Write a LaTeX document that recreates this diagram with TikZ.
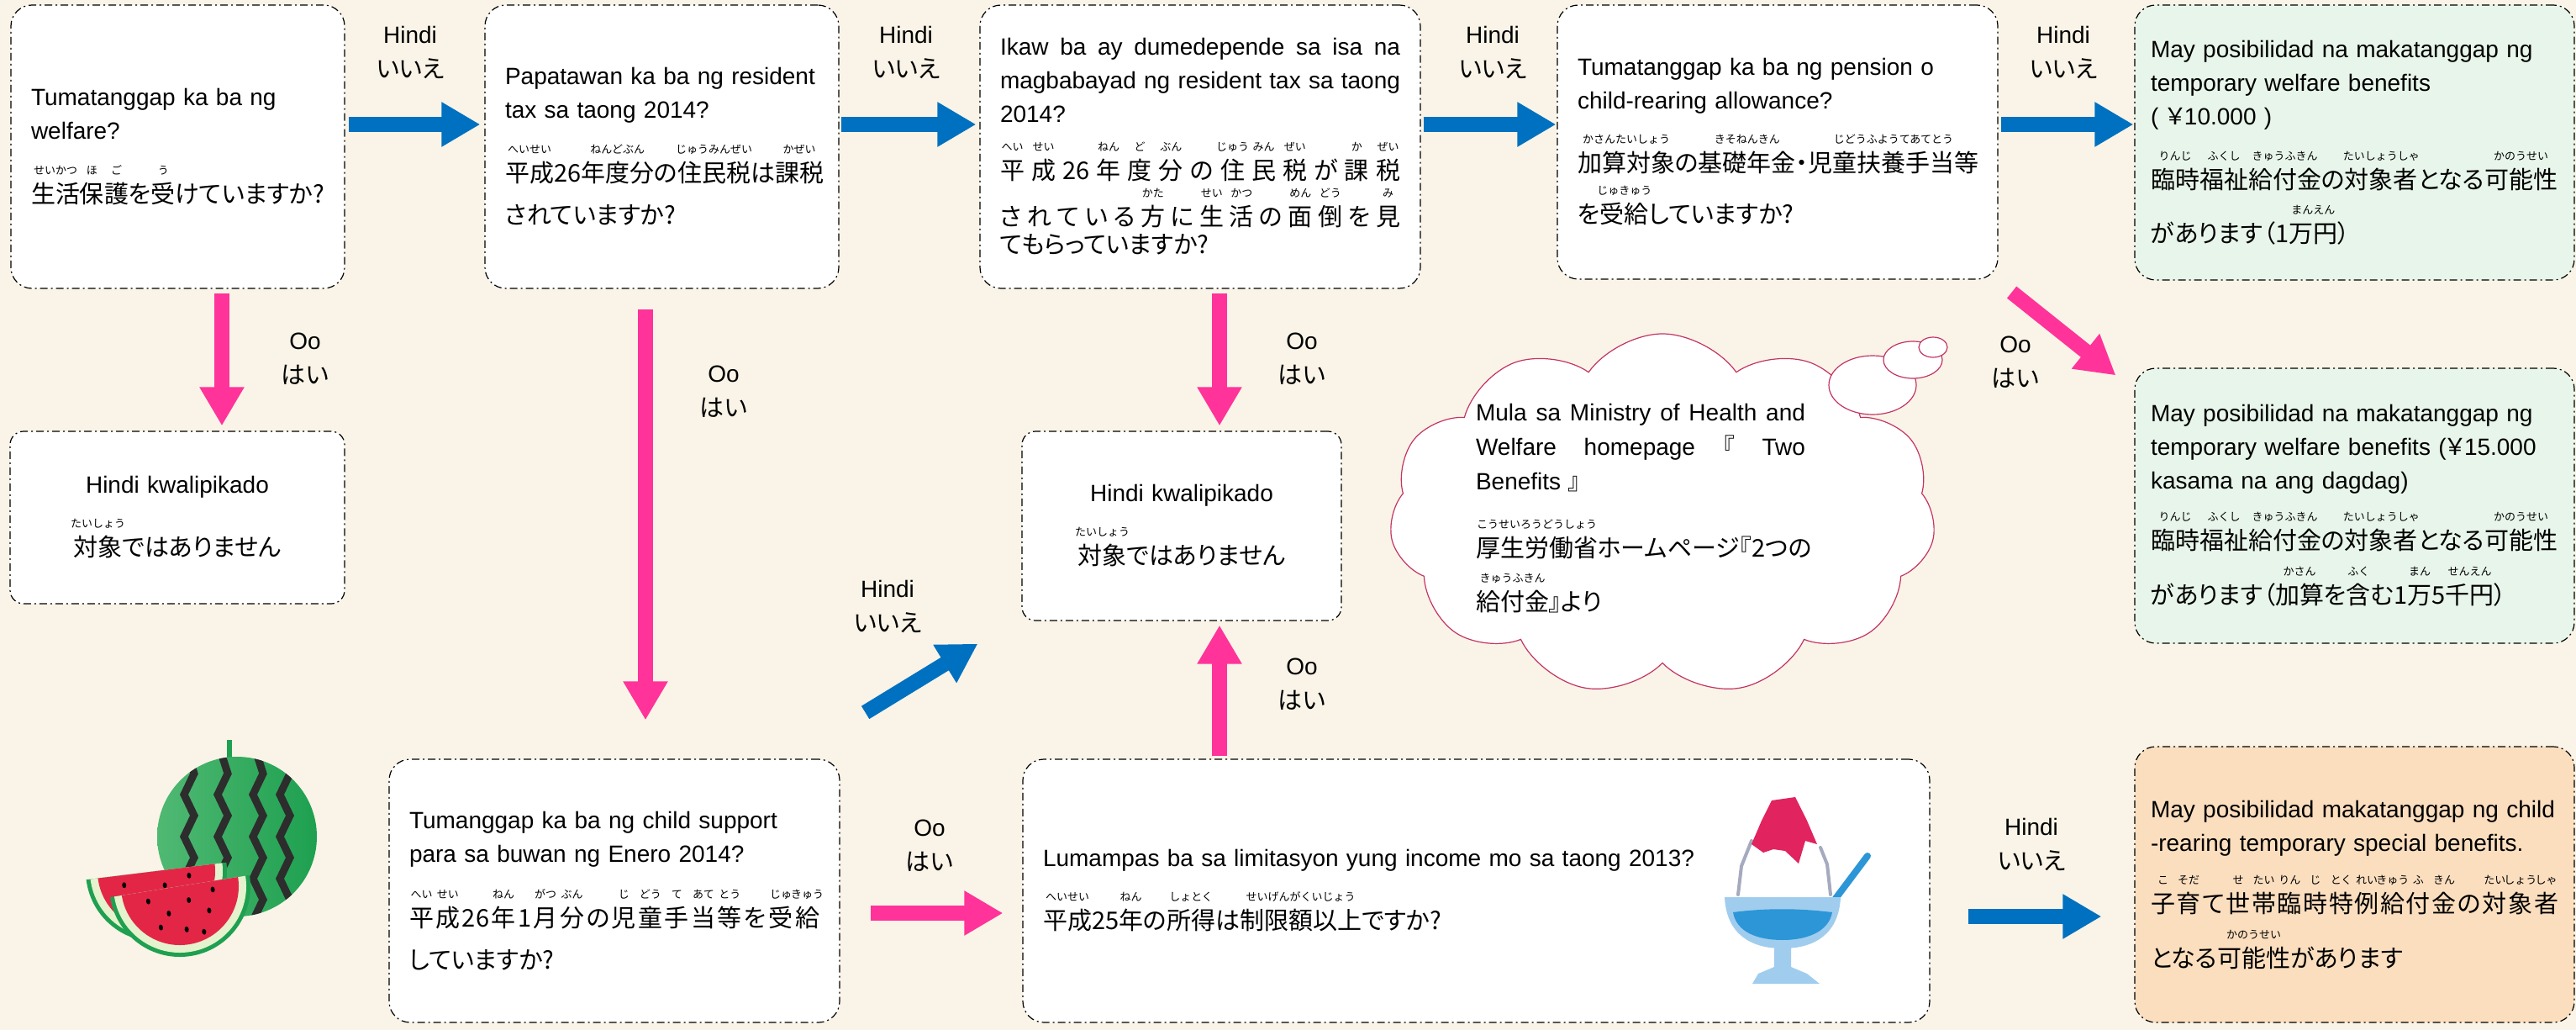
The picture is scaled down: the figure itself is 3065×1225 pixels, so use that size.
\documentclass[tikz,border=0pt]{standalone}
\usepackage{fontspec}
\setmainfont{Liberation Sans}
\newfontfamily\jp{Noto Sans CJK JP}[RawFeature=+palt]
\newfontfamily\jpr{Noto Sans CJK JP}
\usetikzlibrary{arrows.meta,shapes.symbols}

\definecolor{bgcream}{RGB}{249,244,231}
\definecolor{resgreen}{RGB}{232,245,234}
\definecolor{resorange}{RGB}{251,222,190}
\definecolor{arrowblue}{RGB}{0,112,192}
\definecolor{arrowpink}{RGB}{255,51,153}
\definecolor{cloudline}{RGB}{196,52,100}
\definecolor{melon}{RGB}{30,160,80}
\definecolor{melonlight}{RGB}{80,185,115}
\definecolor{stripe}{RGB}{45,45,45}
\definecolor{rindpale}{RGB}{228,242,205}
\definecolor{flesh}{RGB}{228,38,70}
\definecolor{icelight}{RGB}{160,205,238}
\definecolor{iceblue}{RGB}{45,150,215}
\definecolor{icegrey}{RGB}{165,170,190}
\definecolor{syrup}{RGB}{225,35,95}

% japanese line font, ruby over a base, full-width line
\newcommand\jt{\jp\fontsize{29}{40}\selectfont}
\newcommand\rb[2]{\leavevmode\setbox0\hbox{#1}%
  \rlap{\raisebox{34pt}[0pt][0pt]{\makebox[\wd0]{\jpr\fontsize{13}{13}\selectfont #2}}}\box0\relax}
\newcommand\spread[1]{\makebox[\hsize][s]{\spaceskip=0pt plus 1fil\relax #1}}

\begin{document}
\begin{tikzpicture}[
  x=1pt, y=-1pt,
  qbox/.style={rectangle, rounded corners=25pt, draw, line width=1.2pt,
    dash pattern=on 9pt off 4pt on 2pt off 4pt, fill=white,
    inner xsep=24pt, inner ysep=0pt, align=left, font=\fontsize{28}{40}\selectfont},
  nobox/.style={qbox, rounded corners=16pt, align=center},
  resbox/.style={qbox, inner xsep=19pt, text width=485pt, minimum height=327pt},
  yesarrow/.style={draw=arrowpink, line width=18pt, -{Triangle[width=50pt,length=46pt]}},
  noarrow/.style={draw=arrowblue, line width=18pt, -{Triangle[width=50pt,length=46pt]}},
  ans/.style={align=center, font=\fontsize{28}{41}\selectfont}
]

\fill[bgcream] (0,0) rectangle (3065,1225);

% questions along the top row
\node[qbox, text width=349pt, minimum height=337pt] (welfare) at (211.5,174.5)
  {Tumatanggap ka ba ng\\welfare?\\[36pt]\jt\rb{生活}{せいかつ}\rb{保}{ほ}\rb{護}{ご}を\rb{受}{う}けていますか?};
\node[qbox, text width=373pt, minimum height=337pt] (tax) at (787.5,174.5)
  {Papatawan ka ba ng resident\\tax sa taong 2014?\\[36pt]\jt\rb{平成}{へいせい}26\rb{年度分}{ねんどぶん}の\rb{住民税}{じゅうみんぜい}は\rb{課税}{かぜい}\\[10pt]されていますか?};
\node[qbox, text width=476pt, minimum height=337pt] (depend) at (1428,174.5)
  {\spread{Ikaw ba ay dumedepende sa isa na}\\\spread{magbabayad ng resident tax sa taong}\\2014?\\[28pt]\jt
   \spread{\rb{平}{へい} \rb{成}{せい} 26 \rb{年}{ねん} \rb{度}{ど} \rb{分}{ぶん} の \rb{住}{じゅう} \rb{民}{みん} \rb{税}{ぜい} が \rb{課}{か} \rb{税}{ぜい}}\\[15pt]
   \spread{さ れ て い る \rb{方}{かた} に \rb{生}{せい} \rb{活}{かつ} の \rb{面}{めん} \rb{倒}{どう} を \rb{見}{み}}\\[-7pt]てもらっていますか?};
\node[qbox, text width=476pt, minimum height=326pt] (pension) at (2115,169)
  {Tumatanggap ka ba ng pension o\\child-rearing allowance?\\[35pt]\jt\rb{加算対象}{かさんたいしょう}の\rb{基礎年金}{きそねんきん}・\rb{児童扶養手当等}{じどうふようてあてとう}\\[21pt]を\rb{受給}{じゅきゅう}していますか?};

% results on the right
\node[resbox, fill=resgreen] (benefit) at (2801.5,169.5)
  {May posibilidad na makatanggap ng\\temporary welfare benefits\\( {\jp ￥}10.000 )\\[36pt]\jt\rb{臨時}{りんじ}\rb{福祉}{ふくし}\rb{給付金}{きゅうふきん}の\rb{対象者}{たいしょうしゃ}となる\rb{可能性}{かのうせい}\\[24pt]があります（1\rb{万円}{まんえん}）};
\node[resbox, fill=resgreen] (benefitplus) at (2801.5,601.5)
  {May posibilidad na makatanggap ng\\temporary welfare benefits ({\jp ￥}15.000\\kasama na ang dagdag)\\[32pt]\jt\rb{臨時}{りんじ}\rb{福祉}{ふくし}\rb{給付金}{きゅうふきん}の\rb{対象者}{たいしょうしゃ}となる\rb{可能性}{かのうせい}\\[25pt]があります（\rb{加算}{かさん}を\rb{含}{ふく}む1\rb{万}{まん}5\rb{千円}{せんえん}）};
\node[resbox, fill=resorange, minimum height=328pt] (childbenefit) at (2801.5,1052)
  {May posibilidad makatanggap ng child\\-rearing temporary special benefits.\\[33pt]\jt
   \spread{\rb{子}{こ} \rb{育}{そだ} て \rb{世}{せ} \rb{帯}{たい} \rb{臨}{りん} \rb{時}{じ} \rb{特}{とく} \rb{例}{れい} \rb{給}{きゅう} \rb{付}{ふ} \rb{金}{きん} の \rb{対}{たい} \rb{象}{しょう} \rb{者}{しゃ}}\\[25pt]となる\rb{可能性}{かのうせい}があります};

% not qualified
\node[nobox, text width=350pt, minimum height=205pt] (notqa) at (211,615.5)
  {Hindi kwalipikado\\[35pt]\jt\rb{対象}{たいしょう}ではありません};
\node[nobox, text width=332pt, minimum height=225pt] (notqb) at (1406,625.5)
  {Hindi kwalipikado\\[35pt]\jt\rb{対象}{たいしょう}ではありません};

% bottom row
\node[qbox, text width=488pt, minimum height=313pt] (childsup) at (731,1059.5)
  {Tumanggap ka ba ng child support\\para sa buwan ng Enero 2014?\\[37pt]\jt
   \spread{\rb{平}{へい} \rb{成}{せい} 26 \rb{年}{ねん} 1 \rb{月}{がつ} \rb{分}{ぶん} の \rb{児}{じ} \rb{童}{どう} \rb{手}{て} \rb{当}{あて} \rb{等}{とう} を \rb{受}{じゅ} \rb{給}{きゅう}}\\[10pt]していますか?};
\node[qbox, text width=1031pt, minimum height=313pt] (income) at (1756.5,1059.5)
  {Lumampas ba sa limitasyon yung income mo sa taong 2013?\\[35pt]\jt\rb{平成}{へいせい}25\rb{年}{ねん}の\rb{所得}{しょとく}は\rb{制限額以上}{せいげんがくいじょう}ですか?};

% source note in a cloud
\node[cloud, cloud puffs=11, cloud puff arc=110, cloud ignores aspect, draw=cloudline,
  fill=white, line width=1.2pt, minimum width=650pt, minimum height=430pt] (cloud) at (1978,612) {};
\foreach \cx/\cy/\rx/\ry in {2228/458/52/35, 2276/428/35/22, 2300/413/17/12}
  \draw[cloudline, fill=white, line width=1.2pt] (\cx,\cy) ellipse [x radius=\rx, y radius=\ry];
\node[ans, align=left, text width=392pt] (source) at (1952,605)
  {\spread{Mula sa Ministry of Health and}\\\spread{Welfare homepage {\jp 『} Two}\\Benefits {\jp 』}\\[40pt]\jt
   \rb{厚生労働省}{こうせいろうどうしょう}ホームページ『2つの\\[23pt]\rb{給付金}{きゅうふきん}』より};

% Hindi arrows
\draw[noarrow, shorten <=4pt, shorten >=5pt] ([yshift=26.5pt]welfare.east) -- ([yshift=26.5pt]tax.west);
\draw[noarrow, shorten <=2pt, shorten >=4pt] ([yshift=26.5pt]tax.east) -- ([yshift=26.5pt]depend.west);
\draw[noarrow, shorten <=3pt, shorten >=1pt] ([yshift=26.5pt]depend.east) -- ([yshift=21pt]pension.west);
\draw[noarrow, shorten <=3pt, shorten >=1pt] ([yshift=21pt]pension.east) -- ([yshift=21.5pt]benefit.west);
\draw[noarrow] ([xshift=30pt,yshift=55pt]childsup.north east) -- ([xshift=-52pt,yshift=-27pt]notqb.south west);
\draw[noarrow, shorten <=45pt, shorten >=39pt] ([yshift=-30.5pt]income.east) -- ([yshift=-38pt]childbenefit.west);

% Oo arrows
\draw[yesarrow, shorten <=5pt, shorten >=6pt] ([xshift=52.5pt]welfare.south) -- ([xshift=52.5pt]welfare.south |- notqa.north);
\draw[yesarrow, shorten <=24pt, shorten >=46pt] ([xshift=-19.5pt]tax.south) -- ([xshift=-19.5pt]tax.south |- childsup.north);
\draw[yesarrow, shorten <=5pt, shorten >=6pt] ([xshift=23pt]depend.south) -- ([xshift=23pt]depend.south |- notqb.north);
\draw[yesarrow] ([xshift=16pt,yshift=-15pt]pension.south east) -- ([xshift=-22pt,yshift=-9pt]benefitplus.north west);
\draw[yesarrow, shorten <=36pt, shorten >=23pt] ([yshift=-26.5pt]childsup.east) -- ([yshift=-26.5pt]income.west);
\draw[yesarrow, shorten <=3pt, shorten >=5pt] ([xshift=45pt]notqb.south |- income.north) -- ([xshift=45pt]notqb.south);

% answer labels
\node[ans] (hindiA) at (488,62) {Hindi\\\jt いいえ};
\node[ans] (hindiB) at (1078,62) {Hindi\\\jt いいえ};
\node[ans] (hindiC) at (1776,62) {Hindi\\\jt いいえ};
\node[ans] (hindiD) at (2455,62) {Hindi\\\jt いいえ};
\node[ans] (hindiE) at (1056,721) {Hindi\\\jt いいえ};
\node[ans] (hindiF) at (2417,1004) {Hindi\\\jt いいえ};
\node[ans] (ooA) at (363,427) {Oo\\\jt はい};
\node[ans] (ooB) at (861,466) {Oo\\\jt はい};
\node[ans] (ooC) at (1549,427) {Oo\\\jt はい};
\node[ans] (ooD) at (2398,431) {Oo\\\jt はい};
\node[ans] (ooE) at (1549,814) {Oo\\\jt はい};
\node[ans] (ooF) at (1106,1006) {Oo\\\jt はい};

% watermelon
\fill[melon] (270,880) rectangle (276,905);
\shade[left color=melonlight, right color=melon] (282,995) circle (95);
\begin{scope}
  \clip (282,995) circle (95);
  \foreach \sx in {223,263,305,337}
    \draw[stripe, line width=9pt, line join=miter]
      (\sx,895) -- ++(8,25) -- ++(-12,25) -- ++(12,25) -- ++(-12,25) -- ++(12,25) -- ++(-12,25) -- ++(12,25) -- ++(-12,25);
\end{scope}
\foreach \mx/\my/\ang in {186/1036/7, 214/1054/9}{
  \begin{scope}[shift={(\mx,\my)}, rotate=\ang]
    \fill[melon] (-84,0) arc[start angle=180, end angle=0, radius=84] -- cycle;
    \fill[rindpale] (-79,0) arc[start angle=180, end angle=0, radius=79] -- cycle;
    \fill[flesh] (-70,0) arc[start angle=180, end angle=0, radius=70] -- cycle;
    \foreach \sx/\sy in {-40/12, -18/30, 8/18, 30/34, -30/45, 0/52, 38/10, 20/58}
      \fill[black] (\sx,\sy) ellipse [x radius=2.5, y radius=3.5];
  \end{scope}}

% shaved ice
\draw[iceblue, line width=8pt, line cap=round] (2183,1070) -- (2222,1018);
\fill[icelight] (2085,1170) -- (2165,1170) -- (2150,1158) -- (2131,1150) -- (2131,1126) -- (2111,1126) -- (2111,1150) -- (2092,1158) -- cycle;
\fill[white] (2066,1068) -- (2072,1022) -- (2090,982) -- (2118,950) -- (2150,980) -- (2170,1022) -- (2180,1068) -- cycle;
\draw[icegrey, line width=4pt, line cap=round] (2068,1064) -- (2072,1030) -- (2080,1010) -- (2084,1000);
\draw[icegrey, line width=4pt, line cap=round] (2178,1064) -- (2174,1028) -- (2166,1008);
\fill[syrup] (2084,1004) -- (2096,976) -- (2108,952) -- (2136,948) -- (2150,976) -- (2162,1004) -- (2148,1000) -- (2140,1027) -- (2124,1012) -- (2110,1010) -- (2098,1014) -- cycle;
\fill[icelight] (2052,1067) -- (2190,1067) .. controls (2188,1110) and (2160,1128) .. (2121,1128) .. controls (2082,1128) and (2054,1110) .. (2052,1067) -- cycle;
\fill[iceblue] (2062,1085) .. controls (2100,1080) and (2140,1080) .. (2180,1085) .. controls (2176,1108) and (2150,1118) .. (2121,1118) .. controls (2090,1118) and (2066,1108) .. (2062,1085) -- cycle;

\end{tikzpicture}
\end{document}
